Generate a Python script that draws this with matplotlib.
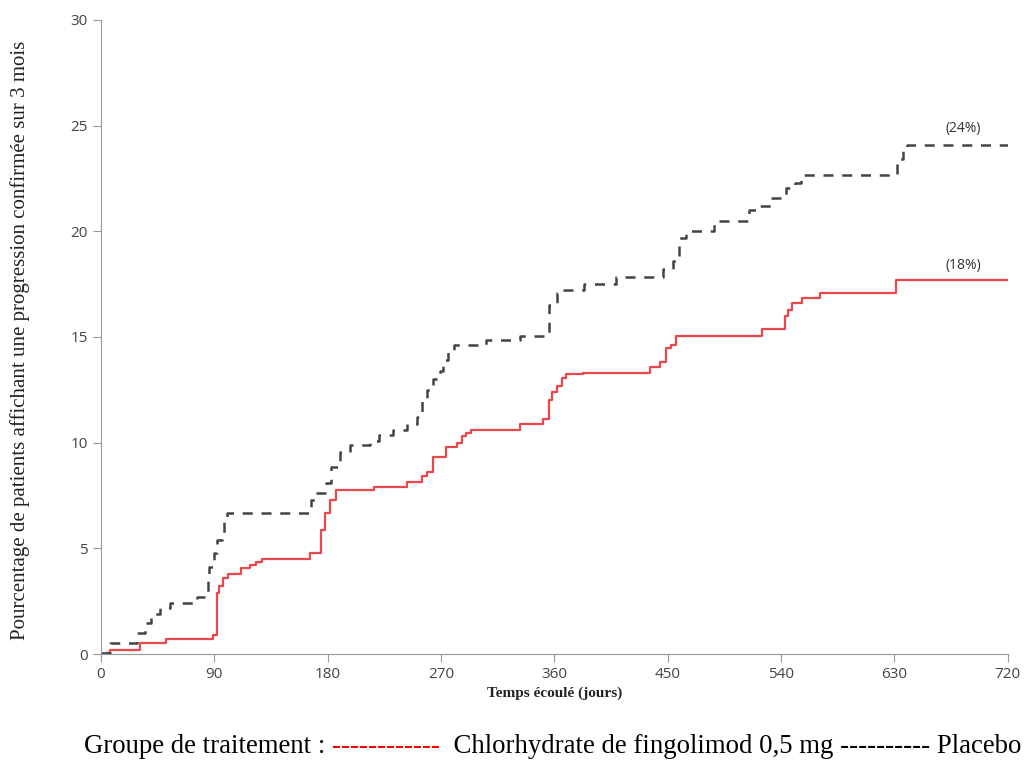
import matplotlib
matplotlib.use("Agg")
import matplotlib.pyplot as plt
from matplotlib.offsetbox import TextArea, HPacker, AnchoredOffsetbox

# Kaplan-Meier style step data (day, cumulative %)
fingo_days = [0, 5, 7, 31, 52, 89, 92, 94, 97, 101, 111, 118, 123, 128, 166, 175, 178, 182, 187,
              217, 243, 255, 259, 264, 274, 283, 287, 290, 294, 333, 351, 356, 358, 362, 366, 369,
              383, 436, 444, 449, 453, 457, 525, 543, 546, 549, 557, 571, 631, 720]
fingo_pct = [0.0, 0.05, 0.2, 0.5, 0.7, 0.9, 2.9, 3.2, 3.6, 3.8, 4.05, 4.2, 4.35, 4.5, 4.8, 5.85, 6.65, 7.3, 7.75,
             7.9, 8.15, 8.4, 8.6, 9.3, 9.8, 10.0, 10.3, 10.45, 10.6, 10.9, 11.1, 12.0, 12.4, 12.7, 13.05,
             13.25, 13.3, 13.6, 13.8, 14.5, 14.6, 15.05, 15.4, 16.0, 16.3, 16.6, 16.85, 17.1, 17.7, 17.7]

placebo_days = [0, 7, 25, 29, 35, 40, 47, 55, 76, 83, 85, 86, 90, 92, 96, 98, 100, 167, 171, 179, 183, 190,
                198, 214, 221, 232, 243, 251, 255, 259, 264, 269, 272, 276, 280, 283, 306, 333, 356, 362, 368,
                384, 409, 446, 454, 459, 465, 487, 515, 523, 533, 544, 551, 556, 632, 637, 640, 644, 720]
placebo_pct = [0.05, 0.5, 0.5, 1.0, 1.45, 1.9, 2.2, 2.4, 2.7, 2.95, 3.5, 4.1, 4.8, 5.4, 5.7, 6.35, 6.65, 7.3, 7.6, 8.1,
               8.85, 9.55, 9.9, 10.1, 10.35, 10.6, 10.9, 11.2, 12.0, 12.5, 13.0, 13.4, 13.9, 14.3, 14.6, 14.6, 14.85,
               15.05, 16.5, 17.1, 17.2, 17.5, 17.85, 18.2, 18.6, 19.7, 20.0, 20.5, 21.0, 21.2, 21.6, 22.05, 22.3,
               22.65, 23.4, 23.85, 24.1, 24.1, 24.1]

x_ticks = [0, 90, 180, 270, 360, 450, 540, 630, 720]
y_ticks = [0, 5, 10, 15, 20, 25, 30]

fig = plt.figure(figsize=(10.25, 7.62), dpi=100)
ax = fig.add_axes([0.0985, 0.1417, 0.8845, 0.8321])

ax.step(fingo_days, fingo_pct, where="post", color="#e8474c", lw=1.6)
ax.step(placebo_days, placebo_pct, where="post", color="#444444", lw=1.8, dashes=(4, 3.5))

ax.text(685, 24.7, "(24%)", fontsize=10, color="#333333", ha="center", family="Open Sans")
ax.text(685, 18.2, "(18%)", fontsize=10, color="#333333", ha="center", family="Open Sans")

ax.set_xlim(0, 720)
ax.set_ylim(0, 30)
ax.set_xticks(x_ticks)
ax.set_yticks(y_ticks)
for s in ["top", "right"]:
    ax.spines[s].set_visible(False)
for s in ["left", "bottom"]:
    ax.spines[s].set_color("#999999")
ax.tick_params(colors="#999999", labelcolor="#444444", labelsize=11, length=6)
for lab in ax.get_xticklabels() + ax.get_yticklabels():
    lab.set_family("Open Sans")
ax.spines["left"].set_bounds(0, 30)

ax.set_xlabel("Temps écoulé (jours)", family="Liberation Serif", fontsize=11, fontweight="bold",
              color="#222222")
ax.xaxis.set_label_coords(0.5, -0.052)
ax.set_ylabel("Pourcentage de patients affichant une progression confirmée sur 3 mois",
              family="Liberation Serif", fontsize=15, color="#222222")
ax.yaxis.set_label_coords(-0.078, 0.495)

tp = dict(family="Liberation Serif", fontsize=19.3)
parts = [TextArea("Groupe de traitement : ", textprops=dict(color="black", **tp)),
         TextArea("------------", textprops=dict(color="#ff0000", **tp)),
         TextArea("  Chlorhydrate de fingolimod 0,5 mg ---------- Placebo", textprops=dict(color="black", **tp))]
box = HPacker(children=parts, align="baseline", pad=0, sep=0)
anch = AnchoredOffsetbox(loc="lower right", child=box, frameon=False, pad=0,
                         bbox_to_anchor=(0.998, 0.002), bbox_transform=fig.transFigure, borderpad=0.1)
fig.add_artist(anch)

fig.savefig("out.png", dpi=100)
